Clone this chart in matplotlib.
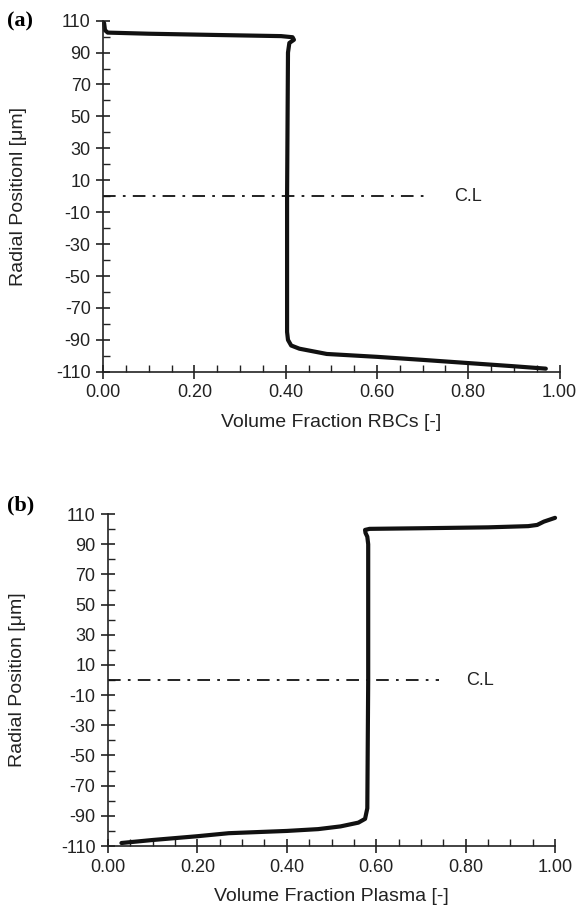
import matplotlib.pyplot as plt
from matplotlib.ticker import MultipleLocator

plt.rcParams["font.family"] = ["Liberation Sans", "DejaVu Sans"]
plt.rcParams["axes.unicode_minus"] = False

# panel (a): RBC volume fraction profile
rbc_fraction = [0.002, 0.004, 0.01, 0.10, 0.25, 0.39, 0.415, 0.418, 0.408, 0.405,
                0.403, 0.403, 0.405, 0.412, 0.43, 0.49, 0.60, 0.70, 0.80, 0.90, 0.97]
rbc_position = [108.5, 104.0, 102.5, 101.8, 101.0, 100.3, 99.6, 98.0, 96.0, 90.0,
                0.0, -85.0, -90.0, -93.5, -95.5, -98.8, -100.6, -102.5, -104.5, -106.5, -108.0]

# panel (b): plasma volume fraction profile
plasma_fraction = [0.03, 0.10, 0.20, 0.27, 0.40, 0.47, 0.52, 0.56, 0.575, 0.58,
                   0.582, 0.582, 0.580, 0.576, 0.575, 0.585, 0.70, 0.85, 0.94, 0.96, 0.975, 1.0]
plasma_position = [-108.0, -106.0, -103.5, -101.5, -100.0, -98.8, -97.0, -94.5, -92.0, -85.0,
                   0.0, 90.0, 95.0, 97.5, 99.5, 100.2, 100.6, 101.2, 102.0, 102.8, 105.0, 107.5]

cl_position = 0.0
cl_end_a = 0.715
cl_end_b = 0.74

x_ticks = [0.0, 0.2, 0.4, 0.6, 0.8, 1.0]
y_ticks = [110, 90, 70, 50, 30, 10, -10, -30, -50, -70, -90, -110]


def style_axis(axis, xlabel, ylabel, ylabel_x):
    axis.set_xlim(0, 1.0)
    axis.set_ylim(-110, 110)
    axis.set_xticks(x_ticks)
    axis.set_xticklabels([f"{t:.2f}" for t in x_ticks])
    axis.set_yticks(y_ticks)
    axis.xaxis.set_minor_locator(MultipleLocator(0.05))
    axis.yaxis.set_minor_locator(MultipleLocator(10))
    axis.spines["top"].set_visible(False)
    axis.spines["right"].set_visible(False)
    for side in ["left", "bottom"]:
        axis.spines[side].set_linewidth(1.2)
        axis.spines[side].set_color("#222222")
    axis.tick_params(which="major", direction="inout", length=10, width=1.2,
                     labelsize=13, colors="#222222", pad=4)
    axis.tick_params(which="minor", direction="in", length=5, width=1.0, colors="#222222")
    axis.set_xlabel(xlabel, fontsize=14, color="#222222", labelpad=9)
    axis.set_ylabel(ylabel, fontsize=14, color="#222222")
    axis.yaxis.set_label_coords(ylabel_x, 0.5)


figure = plt.figure(figsize=(5.78, 9.17), dpi=100)
axis_a = figure.add_axes([0.1785, 0.5945, 0.7895, 0.3830])
axis_b = figure.add_axes([0.1869, 0.0774, 0.7734, 0.3620])

axis_a.plot(rbc_fraction, rbc_position, color="#111111", linewidth=3.0,
            solid_capstyle="round", solid_joinstyle="round", clip_on=False)
axis_a.plot([0, cl_end_a], [cl_position, cl_position], color="#111111",
            linewidth=1.3, linestyle=(0, (7, 4, 1.5, 4)))
axis_a.text(0.77, cl_position, "C.L", fontsize=13, va="center", ha="left", color="#222222")
style_axis(axis_a, "Volume Fraction RBCs [-]", "Radial Positionl [\u03bcm]", -0.168)

axis_b.plot(plasma_fraction, plasma_position, color="#111111", linewidth=3.0,
            solid_capstyle="round", solid_joinstyle="round", clip_on=False)
axis_b.plot([0, cl_end_b], [cl_position, cl_position], color="#111111",
            linewidth=1.3, linestyle=(0, (7, 4, 1.5, 4)))
axis_b.text(0.80, cl_position, "C.L", fontsize=13, va="center", ha="left", color="#222222")
style_axis(axis_b, "Volume Fraction Plasma [-]", "Radial Position [\u03bcm]", -0.183)

figure.text(0.012, 0.977, "(a)", fontsize=16, fontweight="bold",
            family=["Liberation Serif", "DejaVu Serif"], va="center", ha="left")
figure.text(0.012, 0.449, "(b)", fontsize=16, fontweight="bold",
            family=["Liberation Serif", "DejaVu Serif"], va="center", ha="left")

figure.savefig("out.png", dpi=100)
